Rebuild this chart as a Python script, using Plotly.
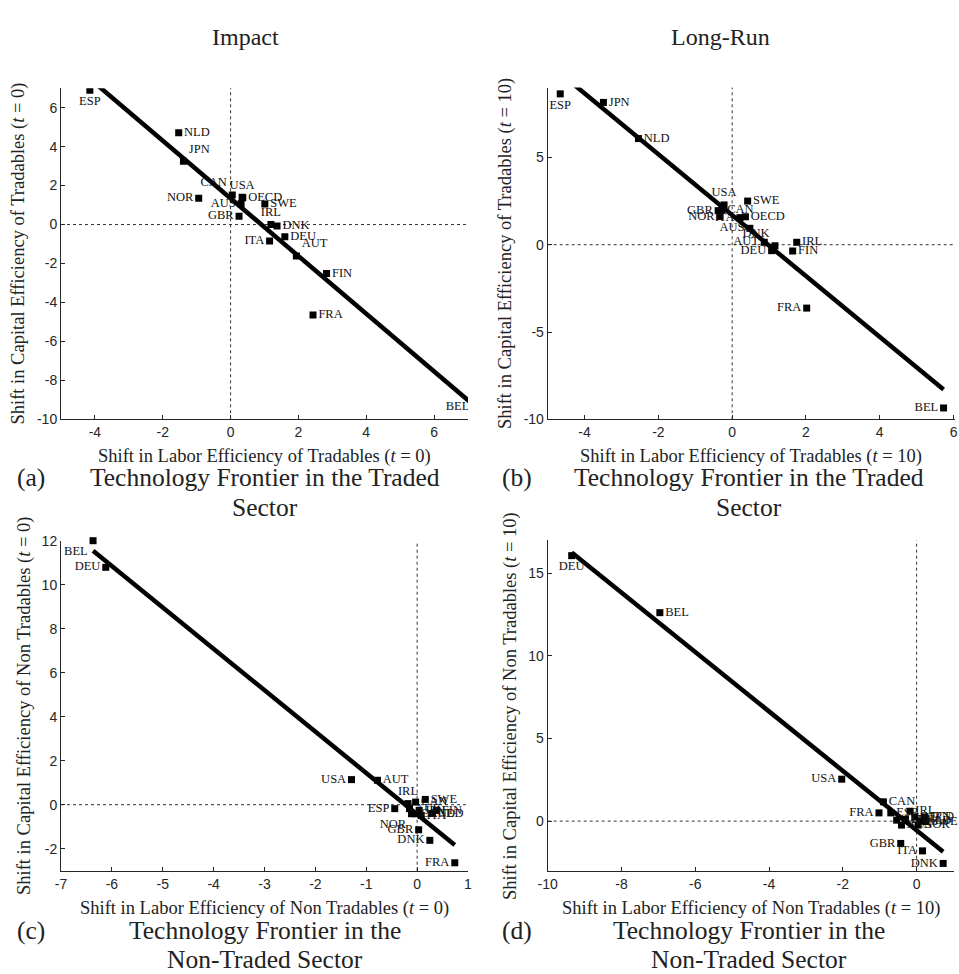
import numpy as np
import plotly.graph_objects as go

W, H = 959, 974

# ---------------- data ----------------
# Panel (a): Impact, traded sector
names_a = ["ESP", "NLD", "JPN", "NOR", "CAN", "USA", "OECD", "AUS", "GBR", "SWE",
           "IRL", "DNK", "DEU", "ITA", "AUT", "FIN", "FRA", "BEL"]
lab_a = [-4.15, -1.53, -1.39, -0.94, 0.05, 0.34, 0.36, 0.31, 0.25, 1.01,
         1.19, 1.37, 1.60, 1.15, 1.94, 2.83, 2.43, 7.20]
cap_a = [6.90, 4.71, 3.25, 1.35, 1.52, 1.40, 1.38, 1.07, 0.43, 1.06,
         0.00, -0.07, -0.63, -0.84, -1.61, -2.52, -4.64, -9.35]

# Panel (b): Long-run, traded sector
names_b = ["ESP", "JPN", "NLD", "USA", "SWE", "GBR", "CAN", "NOR", "ITA", "OECD",
           "AUS", "AUT", "DNK", "DEU", "IRL", "FIN", "FRA", "BEL"]
lab_b = [-4.66, -3.49, -2.54, -0.22, 0.42, -0.38, -0.28, -0.33, 0.21, 0.36,
         0.48, 0.87, 1.16, 1.07, 1.75, 1.64, 2.02, 5.73]
cap_b = [8.64, 8.15, 6.08, 2.28, 2.50, 1.95, 1.98, 1.62, 1.55, 1.60,
         0.94, 0.14, -0.06, -0.34, 0.14, -0.36, -3.63, -9.35]

# Panel (c): Impact, non-traded sector
names_c = ["BEL", "DEU", "USA", "AUT", "IRL", "CAN", "SWE", "ESP", "NOR", "GBR",
           "DNK", "FRA", "JPN", "FIN", "ITA", "NLD", "AUS", "OECD"]
lab_c = [-6.37, -6.12, -1.29, -0.78, -0.18, -0.03, 0.16, -0.44, -0.11, 0.03,
         0.25, 0.74, 0.04, 0.38, 0.08, 0.30, -0.15, -0.03]
cap_c = [12.00, 10.79, 1.14, 1.11, 0.05, 0.12, 0.24, -0.18, -0.41, -1.14,
         -1.62, -2.64, -0.26, -0.26, -0.49, -0.40, -0.18, -0.41]

# Panel (d): Long-run, non-traded sector
names_d = ["DEU", "BEL", "USA", "CAN", "FRA", "ESP", "AUT", "AUS", "IRL", "OECD",
           "NLD", "NOR", "JPN", "SWE", "FIN", "GBR", "ITA", "DNK"]
lab_d = [-9.35, -6.96, -2.03, -0.90, -1.02, -0.70, -0.54, -0.41, -0.18, -0.05,
         0.10, 0.04, 0.22, 0.25, -0.30, -0.43, 0.16, 0.72]
cap_d = [16.07, 12.62, 2.54, 1.17, 0.50, 0.50, 0.06, -0.24, 0.60, 0.26,
         0.00, -0.24, 0.25, -0.02, 0.10, -1.35, -1.80, -2.56]

# tick labels
xt_a = [-4, -2, 0, 2, 4, 6]
yt_a = [-10, -8, -6, -4, -2, 0, 2, 4, 6]
xt_b = [-4, -2, 0, 2, 4, 6]
yt_b = [-10, -5, 0, 5]
xt_c = [-7, -6, -5, -4, -3, -2, -1, 0, 1]
yt_c = [-2, 0, 2, 4, 6, 8, 10, 12]
xt_d = [-10, -8, -6, -4, -2, 0]
yt_d = [0, 5, 10, 15]

# ---------------- label placement (style) ----------------
place_a = {"ESP": "bottom center", "JPN": "top right", "NOR": "middle left", "CAN": "top left",
           "USA": "top center", "AUS": "middle left", "GBR": "middle left", "IRL": "top center",
           "ITA": "middle left", "AUT": "top right", "BEL": "middle left"}
place_b = {"ESP": "bottom center", "USA": "top center", "GBR": "middle left", "NOR": "middle left",
           "ITA": "middle left", "AUS": "middle left", "AUT": "middle left", "DNK": "top left",
           "DEU": "middle left", "FRA": "middle left", "BEL": "middle left"}
place_c = {"BEL": "bottom left", "DEU": "middle left", "USA": "middle left", "IRL": "top center",
           "ESP": "middle left", "NOR": "bottom left", "GBR": "middle left", "DNK": "middle left",
           "FRA": "middle left"}
place_d = {"DEU": "bottom center", "USA": "middle left", "FRA": "middle left", "GBR": "middle left",
           "ITA": "middle left", "DNK": "middle left"}

# ---------------- layout geometry ----------------
def fx(px):
    return px / W

def fy(py):
    return 1 - py / H

panels = [
    dict(x=lab_a, y=cap_a, n=names_a, pl=place_a, xr=[-5, 7], yr=[-10, 7], xt=xt_a, yt=yt_a,
         dx=[61, 468], dy=[88.2, 419.3], clip=True,
         xtitle="Shift in Labor Efficiency of Tradables (<i>t</i> = 0)",
         ytitle="Shift in Capital Efficiency of Tradables (<i>t</i> = 0)"),
    dict(x=lab_b, y=cap_b, n=names_b, pl=place_b, xr=[-5, 6.04], yr=[-10, 9], xt=xt_b, yt=yt_b,
         dx=[547.7, 955], dy=[87.6, 419.3], clip=False,
         xtitle="Shift in Labor Efficiency of Tradables (<i>t</i> = 10)",
         ytitle="Shift in Capital Efficiency of Tradables (<i>t</i> = 10)"),
    dict(x=lab_c, y=cap_c, n=names_c, pl=place_c, xr=[-7, 1], yr=[-3, 12], xt=xt_c, yt=yt_c,
         dx=[61, 468], dy=[540.7, 870.7], clip=False,
         xtitle="Shift in Labor Efficiency of Non Tradables (<i>t</i> = 0)",
         ytitle="Shift in Capital Efficiency of Non Tradables (<i>t</i> = 0)"),
    dict(x=lab_d, y=cap_d, n=names_d, pl=place_d, xr=[-10, 1], yr=[-3, 17], xt=xt_d, yt=yt_d,
         dx=[547.7, 953.5], dy=[540.3, 870.7], clip=False,
         xtitle="Shift in Labor Efficiency of Non Tradables (<i>t</i> = 10)",
         ytitle="Shift in Capital Efficiency of Non Tradables (<i>t</i> = 10)"),
]

SERIF = "Liberation Serif, DejaVu Serif, serif"
SANS = "Liberation Sans, Arial, sans-serif"
AXC = "#262626"

fig = go.Figure()
layout = dict(width=W, height=H, margin=dict(l=0, r=0, t=0, b=0, autoexpand=False),
              plot_bgcolor="white", paper_bgcolor="white", showlegend=False,
              shapes=[], annotations=[])

for i, p in enumerate(panels):
    k = "" if i == 0 else str(i + 1)
    xa, ya = "x" + k, "y" + k
    x = np.array(p["x"]); y = np.array(p["y"])
    # OLS fit line across the data range
    slope, icpt = np.polyfit(x, y, 1)
    xl = np.array([x.min(), x.max()])
    fig.add_trace(go.Scatter(x=xl, y=icpt + slope * xl, mode="lines",
                             line=dict(color="black", width=4.5), xaxis=xa, yaxis=ya,
                             hoverinfo="skip"))
    tpos = [p["pl"].get(n, "middle right") for n in p["n"]]
    fig.add_trace(go.Scatter(x=x, y=y, mode="markers+text", text=p["n"], textposition=tpos,
                             marker=dict(symbol="square", size=7, color="black"),
                             textfont=dict(family=SERIF, size=12.5, color="#111111"),
                             cliponaxis=p["clip"], xaxis=xa, yaxis=ya))
    axk = "xaxis" + k
    ayk = "yaxis" + k
    layout[axk] = dict(domain=[fx(p["dx"][0]), fx(p["dx"][1])], range=p["xr"], anchor=ya,
                       automargin=False,
                       showgrid=False, zeroline=False, showline=True, linecolor=AXC, linewidth=1,
                       ticks="inside", ticklen=4, tickcolor=AXC,
                       tickvals=p["xt"], ticktext=[str(v) for v in p["xt"]],
                       tickfont=dict(family=SANS, size=14, color=AXC))
    layout[ayk] = dict(domain=[fy(p["dy"][1]), fy(p["dy"][0])], range=p["yr"], anchor=xa,
                       automargin=False,
                       showgrid=False, zeroline=False, showline=True, linecolor=AXC, linewidth=1,
                       ticks="inside", ticklen=4, tickcolor=AXC,
                       tickvals=p["yt"], ticktext=[str(v) for v in p["yt"]],
                       tickfont=dict(family=SANS, size=14, color=AXC))
    # dotted zero reference lines
    layout["shapes"].append(dict(type="line", xref=xa, yref=ya + " domain", x0=0, x1=0, y0=0, y1=1,
                                 line=dict(color="#333333", width=1, dash="dot"), layer="below"))
    layout["shapes"].append(dict(type="line", xref=xa + " domain", yref=ya, x0=0, x1=1, y0=0, y1=0,
                                 line=dict(color="#333333", width=1, dash="dot"), layer="below"))

ann = layout["annotations"]

def text(px, py, s, size, family=SERIF, angle=0, color="#222222"):
    ann.append(dict(x=fx(px), y=fy(py), xref="paper", yref="paper", text=s, showarrow=False,
                    xanchor="center", yanchor="middle", textangle=angle,
                    font=dict(family=family, size=size, color=color)))

# column titles
text(245, 37, "Impact", 24)
text(720, 37, "Long-Run", 24)
# axis titles
TS = 18.5
text(264.5, 457, panels[0]["xtitle"], TS)
text(751, 457, panels[1]["xtitle"], TS)
text(264.5, 908, panels[2]["xtitle"], TS)
text(751, 908, panels[3]["xtitle"], TS)
text(18.5, 254, panels[0]["ytitle"], TS, angle=-90)
text(506, 254, panels[1]["ytitle"], TS, angle=-90)
text(24, 706, panels[2]["ytitle"], TS, angle=-90)
text(510, 706, panels[3]["ytitle"], TS, angle=-90)
# sub-captions
CS = 25.5
text(31, 477, "(a)", CS)
text(264.5, 477, "Technology Frontier in the Traded", CS)
text(264.5, 507, "Sector", CS)
text(517, 477, "(b)", CS)
text(749, 477, "Technology Frontier in the Traded", CS)
text(749, 507, "Sector", CS)
text(31, 930, "(c)", CS)
text(264.5, 930, "Technology Frontier in the", CS)
text(264.5, 959, "Non-Traded Sector", CS)
text(517, 930, "(d)", CS)
text(749, 930, "Technology Frontier in the", CS)
text(749, 959, "Non-Traded Sector", CS)

fig.update_layout(**layout)
fig.write_html("out.html", config={"displayModeBar": False},
               post_script="document.body.style.margin='0';document.body.style.overflow='hidden';")
